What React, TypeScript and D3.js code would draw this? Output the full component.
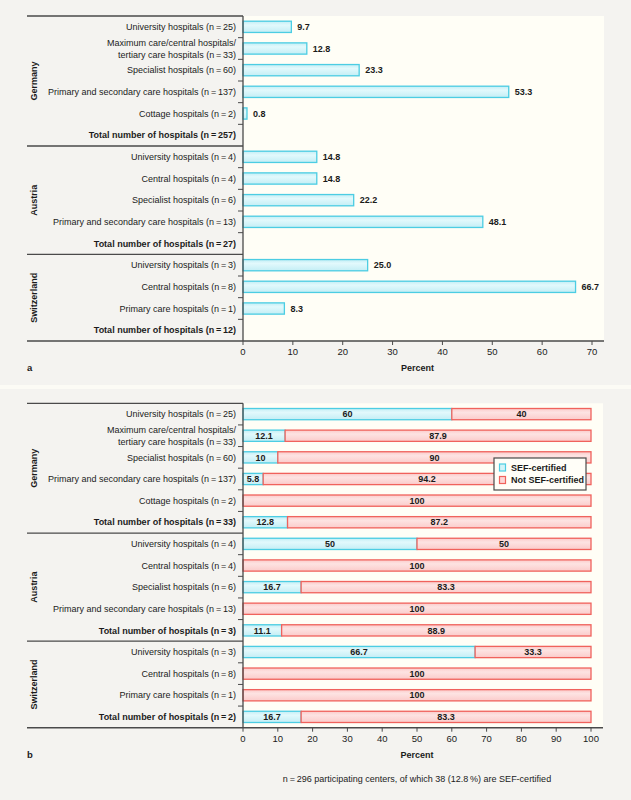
import React, { useEffect, useRef } from "react";
import * as d3 from "d3";

const countries = ["Germany", "Austria", "Switzerland"];

// panel a: share of hospital types among participants (percent)
const germanyLabelsA = [
  "University hospitals (n\u2009=\u200925)",
  "Maximum care/central hospitals/\ntertiary care hospitals (n\u2009=\u200933)",
  "Specialist hospitals (n\u2009=\u200960)",
  "Primary and secondary care hospitals (n\u2009=\u2009137)",
  "Cottage hospitals (n\u2009=\u20092)",
  "Total number of hospitals (n\u2009=\u2009257)",
];
const germanyShareA = [9.7, 12.8, 23.3, 53.3, 0.8, null];

const austriaLabelsA = [
  "University hospitals (n\u2009=\u20094)",
  "Central hospitals (n\u2009=\u20094)",
  "Specialist hospitals (n\u2009=\u20096)",
  "Primary and secondary care hospitals (n\u2009=\u200913)",
  "Total number of hospitals (n\u2009=\u200927)",
];
const austriaShareA = [14.8, 14.8, 22.2, 48.1, null];

const switzerlandLabelsA = [
  "University hospitals (n\u2009=\u20093)",
  "Central hospitals (n\u2009=\u20098)",
  "Primary care hospitals (n\u2009=\u20091)",
  "Total number of hospitals (n\u2009=\u200912)",
];
const switzerlandShareA = [25.0, 66.7, 8.3, null];

// panel b: SEF-certified vs not (percent)
const germanyLabelsB = [
  "University hospitals (n\u2009=\u200925)",
  "Maximum care/central hospitals/\ntertiary care hospitals (n\u2009=\u200933)",
  "Specialist hospitals (n\u2009=\u200960)",
  "Primary and secondary care hospitals (n\u2009=\u2009137)",
  "Cottage hospitals (n\u2009=\u20092)",
  "Total number of hospitals (n\u2009=\u200933)",
];
const germanyCertified = [60, 12.1, 10, 5.8, 0, 12.8];
const germanyNotCertified = [40, 87.9, 90, 94.2, 100, 87.2];

const austriaLabelsB = [
  "University hospitals (n\u2009=\u20094)",
  "Central hospitals (n\u2009=\u20094)",
  "Specialist hospitals (n\u2009=\u20096)",
  "Primary and secondary care hospitals (n\u2009=\u200913)",
  "Total number of hospitals (n\u2009=\u20093)",
];
const austriaCertified = [50, 0, 16.7, 0, 11.1];
const austriaNotCertified = [50, 100, 83.3, 100, 88.9];

const switzerlandLabelsB = [
  "University hospitals (n\u2009=\u20093)",
  "Central hospitals (n\u2009=\u20098)",
  "Primary care hospitals (n\u2009=\u20091)",
  "Total number of hospitals (n\u2009=\u20092)",
];
const switzerlandCertified = [66.7, 0, 0, 16.7];
const switzerlandNotCertified = [33.3, 100, 100, 83.3];

const ticksA = [0, 10, 20, 30, 40, 50, 60, 70];
const ticksB = [0, 10, 20, 30, 40, 50, 60, 70, 80, 90, 100];
const legendLabels = ["SEF-certified", "Not SEF-certified"];
const footnote = "n\u2009=\u2009296 participating centers, of which 38 (12.8\u2009%) are SEF-certified";

const FONT = "'Liberation Sans', Arial, sans-serif";
const INK = "#1b1b1b";
const LINE = "#4a4a4a";
const CYAN = "#4ccde3";
const RED = "#f0625c";

const drawPanel = (svg, p) => {
  const rows = p.groups.flatMap((g, gi) =>
    g.labels.map((label, i) => ({ key: gi + "-" + i, label, gi, i, last: i === g.labels.length - 1, total: i === g.labels.length - 1 }))
  );
  const y = d3.scaleBand().domain(rows.map(r => r.key)).range([p.top, p.bottom]).paddingInner(0.48).paddingOuter(0.24);
  const step = y.step();
  const bw = y.bandwidth();
  const cy = k => y(k) + bw / 2;
  const x = d3.scaleLinear().domain([0, p.xMax]).range([243, p.xEnd]);
  const left = 27;

  svg.append("rect")
    .attr("x", x(0)).attr("y", p.top)
    .attr("width", p.plotRight - x(0)).attr("height", p.bottom - p.top)
    .attr("fill", "#fffef6");

  // row labels
  rows.forEach(r => {
    const lines = r.label.split("\n");
    const t = svg.append("text")
      .attr("x", x(0) - 7)
      .attr("text-anchor", "end")
      .attr("font-family", FONT)
      .attr("font-size", 9)
      .attr("font-weight", r.total ? "bold" : "normal")
      .attr("fill", INK);
    lines.forEach((ln, li) => {
      t.append("tspan")
        .attr("x", x(0) - 7)
        .attr("y", cy(r.key) + (li - (lines.length - 1) / 2) * 12)
        .attr("dy", "0.35em")
        .text(ln);
    });
  });

  // y ticks between rows within a group
  rows.forEach(r => {
    if (r.last) return;
    svg.append("line")
      .attr("x1", x(0) - 5).attr("x2", x(0))
      .attr("y1", cy(r.key) + step / 2).attr("y2", cy(r.key) + step / 2)
      .attr("stroke", LINE).attr("stroke-width", 1);
  });

  // group separators and country names
  let start = 0;
  p.groups.forEach((g, gi) => {
    const first = rows[start];
    const lastRow = rows[start + g.labels.length - 1];
    const yTop = cy(first.key) - step / 2;
    const yBot = cy(lastRow.key) + step / 2;
    svg.append("line")
      .attr("x1", left).attr("x2", x(0))
      .attr("y1", yTop).attr("y2", yTop)
      .attr("stroke", LINE).attr("stroke-width", 1.3);
    svg.append("text")
      .attr("transform", `translate(${left + 10},${(yTop + yBot) / 2}) rotate(-90)`)
      .attr("text-anchor", "middle")
      .attr("font-family", FONT)
      .attr("font-size", 9)
      .attr("font-weight", "bold")
      .attr("fill", INK)
      .text(countries[gi]);
    start += g.labels.length;
  });

  p.drawBars(svg, rows, x, cy, bw);

  // axes
  svg.append("line")
    .attr("x1", x(0)).attr("x2", x(0))
    .attr("y1", p.top).attr("y2", p.bottom)
    .attr("stroke", LINE).attr("stroke-width", 1.3);
  svg.append("line")
    .attr("x1", left).attr("x2", p.plotRight)
    .attr("y1", p.bottom).attr("y2", p.bottom)
    .attr("stroke", LINE).attr("stroke-width", 1.6);

  p.ticks.forEach(t => {
    svg.append("line")
      .attr("x1", x(t)).attr("x2", x(t))
      .attr("y1", p.bottom).attr("y2", p.bottom + 4)
      .attr("stroke", LINE).attr("stroke-width", 1);
    svg.append("text")
      .attr("x", x(t)).attr("y", p.bottom + 14)
      .attr("text-anchor", "middle")
      .attr("font-family", FONT).attr("font-size", 9.5)
      .attr("fill", INK)
      .text(t);
  });

  svg.append("text")
    .attr("x", (x(0) + x(p.xMax)) / 2).attr("y", p.bottom + 30)
    .attr("text-anchor", "middle")
    .attr("font-family", FONT).attr("font-size", 9).attr("font-weight", "bold")
    .attr("fill", INK)
    .text("Percent");

  svg.append("text")
    .attr("x", left).attr("y", p.bottom + 30)
    .attr("font-family", FONT).attr("font-size", 9.5).attr("font-weight", "bold")
    .attr("fill", INK)
    .text(p.letter);

  return x;
};

const App = () => {
  const svgRef = useRef(null);

  useEffect(() => {
    const svg = d3.select(svgRef.current);
    svg.selectAll("*").remove();

    const defs = svg.append("defs");
    const grad = (id, c0, c1) => {
      const lg = defs.append("linearGradient").attr("id", id).attr("x1", 0).attr("x2", 0).attr("y1", 0).attr("y2", 1);
      lg.append("stop").attr("offset", "0%").attr("stop-color", c0);
      lg.append("stop").attr("offset", "35%").attr("stop-color", c1);
      lg.append("stop").attr("offset", "100%").attr("stop-color", c0);
    };
    grad("gCyan", "#c3eef5", "#e2f9fc");
    grad("gRed", "#fbcbca", "#fde3e2");

    svg.append("rect").attr("width", 631).attr("height", 800).attr("fill", "#fcfbf5");
    svg.append("rect").attr("width", 631).attr("height", 385).attr("fill", "#f4f3f0");
    svg.append("rect").attr("y", 389).attr("width", 631).attr("height", 411).attr("fill", "#f4f3f0");

    // panel a
    const sharesA = [germanyShareA, austriaShareA, switzerlandShareA].flat();
    drawPanel(svg, {
      top: 16, bottom: 341, xMax: 70, xEnd: 592, plotRight: 604,
      ticks: ticksA, letter: "a",
      groups: [{ labels: germanyLabelsA }, { labels: austriaLabelsA }, { labels: switzerlandLabelsA }],
      drawBars: (g, rows, x, cy, bw) => {
        rows.forEach((r, idx) => {
          const v = sharesA[idx];
          if (v == null) return;
          g.append("rect")
            .attr("x", x(0)).attr("y", cy(r.key) - bw / 2)
            .attr("width", x(v) - x(0)).attr("height", bw)
            .attr("fill", "url(#gCyan)").attr("stroke", CYAN).attr("stroke-width", 1.3);
          g.append("text")
            .attr("x", x(v) + 6).attr("y", cy(r.key)).attr("dy", "0.35em")
            .attr("font-family", FONT).attr("font-size", 9).attr("font-weight", "bold")
            .attr("fill", INK)
            .text(v.toFixed(1));
        });
      },
    });

    // panel b
    const cert = [germanyCertified, austriaCertified, switzerlandCertified].flat();
    const notCert = [germanyNotCertified, austriaNotCertified, switzerlandNotCertified].flat();
    drawPanel(svg, {
      top: 403.3, bottom: 727.7, xMax: 100, xEnd: 591, plotRight: 603,
      ticks: ticksB, letter: "b",
      groups: [{ labels: germanyLabelsB }, { labels: austriaLabelsB }, { labels: switzerlandLabelsB }],
      drawBars: (g, rows, x, cy, bw) => {
        rows.forEach((r, idx) => {
          const c = cert[idx], n = notCert[idx];
          const segs = [
            { a: 0, b: c, v: c, fill: "url(#gCyan)", stroke: CYAN },
            { a: c, b: c + n, v: n, fill: "url(#gRed)", stroke: RED },
          ];
          segs.forEach(s => {
            if (s.v <= 0) return;
            g.append("rect")
              .attr("x", x(s.a)).attr("y", cy(r.key) - bw / 2)
              .attr("width", x(s.b) - x(s.a)).attr("height", bw)
              .attr("fill", s.fill).attr("stroke", s.stroke).attr("stroke-width", 1.3);
          });
          segs.forEach(s => {
            if (s.v <= 0) return;
            g.append("text")
              .attr("x", (x(s.a) + x(s.b)) / 2).attr("y", cy(r.key)).attr("dy", "0.35em")
              .attr("text-anchor", "middle")
              .attr("font-family", FONT).attr("font-size", 9).attr("font-weight", "bold")
              .attr("fill", INK)
              .text(String(s.v));
          });
        });
      },
    });

    // legend
    const lg = svg.append("g").attr("transform", "translate(494,458)");
    lg.append("rect").attr("width", 92).attr("height", 32)
      .attr("fill", "#fffef8").attr("stroke", LINE).attr("stroke-width", 1.2);
    legendLabels.forEach((lab, i) => {
      lg.append("rect")
        .attr("x", 5.5).attr("y", 6 + i * 12.5).attr("width", 6).attr("height", 7)
        .attr("fill", i === 0 ? "#d3f4f8" : "#fcd6d5")
        .attr("stroke", i === 0 ? CYAN : RED).attr("stroke-width", 1.2);
      lg.append("text")
        .attr("x", 17).attr("y", 9.5 + i * 12.5).attr("dy", "0.35em")
        .attr("font-family", FONT).attr("font-size", 9).attr("font-weight", "bold")
        .attr("fill", INK)
        .text(lab);
    });

    svg.append("text")
      .attr("x", 417).attr("y", 782)
      .attr("text-anchor", "middle")
      .attr("font-family", FONT).attr("font-size", 9)
      .attr("fill", INK)
      .text(footnote);
  }, []);

  return (
    <svg
      ref={svgRef}
      width={631}
      height={800}
      style={{ position: "absolute", left: 0, top: 0, display: "block" }}
    />
  );
};

export default App;
